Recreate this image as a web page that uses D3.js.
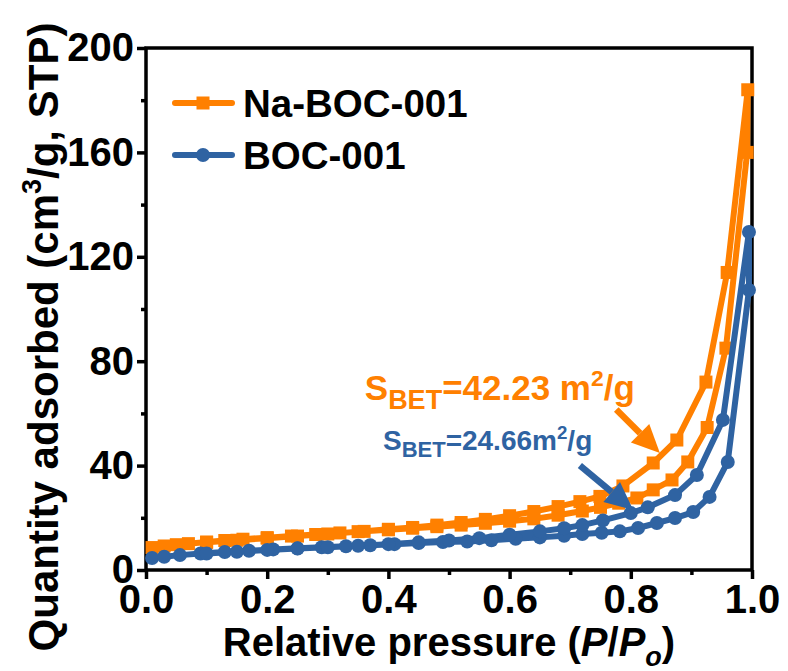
<!DOCTYPE html>
<html>
<head>
<meta charset="utf-8">
<script src="https://cdn.jsdelivr.net/npm/d3@7"></script>
<style>
  html, body { margin: 0; padding: 0; background: #fff; }
  svg { display: block; }
  text { font-family: Arial, "Liberation Sans", sans-serif; font-weight: bold; }
</style>
</head>
<body>
<svg id="chart" width="788" height="671"></svg>
<script>
// N2 adsorption–desorption isotherms (P/P0, cm3/g STP)
const naAdsorption = [
  [0.01, 8.6], [0.03, 9.2], [0.05, 9.7], [0.07, 10.1], [0.10, 10.7], [0.13, 11.3],
  [0.16, 11.8], [0.20, 12.4], [0.24, 13.0], [0.28, 13.6], [0.32, 14.2], [0.36, 14.8],
  [0.40, 15.4], [0.44, 16.0], [0.48, 16.6], [0.52, 17.2], [0.56, 17.9], [0.60, 18.7],
  [0.64, 19.6], [0.68, 21.0], [0.72, 22.6], [0.75, 24.0], [0.78, 25.6], [0.81, 27.6],
  [0.837, 30.7], [0.868, 34.5], [0.894, 41.4], [0.926, 54.6], [0.957, 85.0], [0.992, 160.0]
];
const naDesorption = [
  [0.993, 184.0], [0.959, 114.0], [0.924, 72.0], [0.876, 49.8], [0.837, 41.0],
  [0.787, 32.2], [0.749, 28.2], [0.716, 26.2], [0.68, 24.3], [0.64, 22.4], [0.60, 20.8],
  [0.56, 19.4], [0.52, 18.2], [0.48, 17.2], [0.44, 16.3], [0.40, 15.6], [0.35, 14.7],
  [0.30, 13.8], [0.25, 13.0], [0.20, 12.2], [0.15, 11.4], [0.10, 10.6]
];
const bocAdsorption = [
  [0.01, 4.6], [0.03, 5.1], [0.056, 5.7], [0.09, 6.3], [0.13, 6.9], [0.17, 7.4],
  [0.21, 7.9], [0.25, 8.3], [0.29, 8.7], [0.33, 9.1], [0.37, 9.5], [0.41, 9.9],
  [0.45, 10.3], [0.49, 10.7], [0.53, 10.9], [0.57, 11.4], [0.61, 12.0], [0.65, 12.5],
  [0.69, 13.1], [0.72, 13.8], [0.752, 14.3], [0.782, 14.8], [0.812, 16.1], [0.843, 18.0],
  [0.873, 19.9], [0.903, 22.2], [0.93, 28.0], [0.96, 41.4], [0.995, 107.3]
];
const bocDesorption = [
  [0.995, 129.5], [0.952, 57.5], [0.909, 36.4], [0.873, 28.7], [0.828, 24.0],
  [0.80, 21.8], [0.754, 19.0], [0.72, 17.2], [0.69, 16.0], [0.65, 14.8], [0.60, 13.5],
  [0.55, 12.2], [0.50, 11.3], [0.45, 10.6], [0.40, 9.9], [0.35, 9.3], [0.30, 8.7],
  [0.25, 8.2], [0.20, 7.7], [0.15, 7.0], [0.10, 6.3]
];
const seriesNames = ["Na-BOC-001", "BOC-001"];
const xTicks = [0, 0.2, 0.4, 0.6, 0.8, 1.0];
const xMinorTicks = [0.1, 0.3, 0.5, 0.7, 0.9];
const yTicks = [0, 40, 80, 120, 160, 200];
const yMinorTicks = [20, 60, 100, 140, 180];

const ORANGE = "#ff8000";
const BLUE = "#2f63a2";

const svg = d3.select("#chart");
const margin = { left: 146, right: 36, top: 48, bottom: 101 };
const W = 788, H = 671;

const x = d3.scaleLinear().domain([0, 1]).range([margin.left, W - margin.right]);
const y = d3.scaleLinear().domain([0, 200]).range([H - margin.bottom, margin.top]);

// ----- axes -----
const xAxisG = svg.append("g").attr("transform", `translate(0,${y(0)})`);
xAxisG.call(d3.axisBottom(x).tickValues(xTicks).tickFormat(d3.format(".1f")).tickSize(9).tickPadding(7));
xAxisG.append("g").call(d3.axisBottom(x).tickValues(xMinorTicks).tickFormat("").tickSize(5))
  .call(g => g.select(".domain").remove());

const yAxisG = svg.append("g").attr("transform", `translate(${x(0)},0)`);
yAxisG.call(d3.axisLeft(y).tickValues(yTicks).tickFormat(d3.format("d")).tickSize(9).tickPadding(3));
yAxisG.append("g").call(d3.axisLeft(y).tickValues(yMinorTicks).tickFormat("").tickSize(5))
  .call(g => g.select(".domain").remove());

svg.selectAll(".domain").remove();
svg.selectAll(".tick line").attr("stroke", "#000").attr("stroke-width", 3.5);
svg.selectAll(".tick text").attr("fill", "#000").attr("font-size", 40)
  .attr("font-family", "Arial, 'Liberation Sans', sans-serif").attr("font-weight", "bold");
xAxisG.selectAll(".tick text").attr("dy", "0.68em");

// plot frame
svg.append("rect")
  .attr("x", x(0)).attr("y", y(200))
  .attr("width", x(1) - x(0)).attr("height", y(0) - y(200))
  .attr("fill", "none").attr("stroke", "#000").attr("stroke-width", 3.5);

// ----- series -----
const line = d3.line().x(d => x(d[0])).y(d => y(d[1]));
const plot = svg.append("g");

function drawSeries(points, color, marker) {
  plot.append("path").datum(points)
    .attr("d", line).attr("fill", "none")
    .attr("stroke", color).attr("stroke-width", 6).attr("stroke-linejoin", "round");
  if (marker === "square") {
    plot.append("g").selectAll("rect").data(points).join("rect")
      .attr("x", d => x(d[0]) - 6.5).attr("y", d => y(d[1]) - 6.5)
      .attr("width", 13).attr("height", 13).attr("fill", color);
  } else {
    plot.append("g").selectAll("circle").data(points).join("circle")
      .attr("cx", d => x(d[0])).attr("cy", d => y(d[1])).attr("r", 7).attr("fill", color);
  }
}
drawSeries(naAdsorption.concat(naDesorption), ORANGE, "square");
drawSeries(bocAdsorption.concat(bocDesorption), BLUE, "circle");

// ----- annotations -----
function arrow(from, to, color) {
  const x0 = x(from[0]), y0 = y(from[1]), x1 = x(to[0]), y1 = y(to[1]);
  const ang = Math.atan2(y1 - y0, x1 - x0);
  const headLen = 28, headW = 13;
  const bx = x1 - headLen * Math.cos(ang), by = y1 - headLen * Math.sin(ang);
  svg.append("line").attr("x1", x0).attr("y1", y0).attr("x2", bx).attr("y2", by)
    .attr("stroke", color).attr("stroke-width", 6.5);
  const px = -Math.sin(ang), py = Math.cos(ang);
  svg.append("path")
    .attr("d", `M${x1},${y1}L${bx + headW * px},${by + headW * py}L${bx - headW * px},${by - headW * py}Z`)
    .attr("fill", color);
}
arrow([0.776, 61.5], [0.848, 44.8], ORANGE);
arrow([0.716, 40.0], [0.804, 23.0], BLUE);

function sbetLabel(pos, value, gap, color, size, subSize) {
  const t = svg.append("text").attr("x", x(pos[0])).attr("y", y(pos[1]))
    .attr("fill", color).attr("font-size", size);
  t.append("tspan").text("S");
  t.append("tspan").attr("font-size", subSize).attr("dy", size * 0.25).text("BET");
  t.append("tspan").attr("dy", -size * 0.25).text("=" + value + gap + "m");
  t.append("tspan").attr("font-size", subSize * 0.85).attr("dy", -size * 0.4).text("2");
  t.append("tspan").attr("dy", size * 0.4).text("/g");
}
sbetLabel([0.361, 65.1], "42.23", " ", ORANGE, 35, 27);
sbetLabel([0.391, 46.0], "24.66", "", BLUE, 28, 22);

// ----- legend -----
const legend = svg.append("g");
const legendItems = [
  { name: seriesNames[0], color: ORANGE, marker: "square" },
  { name: seriesNames[1], color: BLUE, marker: "circle" }
];
legendItems.forEach((item, i) => {
  const cy = 103 + i * 52;
  legend.append("line").attr("x1", 175).attr("x2", 232).attr("y1", cy).attr("y2", cy)
    .attr("stroke", item.color).attr("stroke-width", 6).attr("stroke-linecap", "round");
  if (item.marker === "square") {
    legend.append("rect").attr("x", 196.5).attr("y", cy - 6.5).attr("width", 13).attr("height", 13)
      .attr("fill", item.color);
  } else {
    legend.append("circle").attr("cx", 203).attr("cy", cy).attr("r", 7).attr("fill", item.color);
  }
  legend.append("text").attr("x", 243).attr("y", cy + 14)
    .attr("font-size", 38.5).attr("fill", "#000").text(item.name);
});

// ----- axis titles -----
const xTitle = svg.append("text")
  .attr("x", (x(0) + x(1)) / 2).attr("y", 656)
  .attr("text-anchor", "middle").attr("font-size", 40).attr("fill", "#000");
xTitle.append("tspan").text("Relative pressure (");
xTitle.append("tspan").attr("font-style", "italic").text("P");
xTitle.append("tspan").text("/");
xTitle.append("tspan").attr("font-style", "italic").text("P");
xTitle.append("tspan").attr("font-style", "italic").attr("font-size", 27).attr("dy", 10).text("o");
xTitle.append("tspan").attr("dy", -10).text(")");

const yTitle = svg.append("text")
  .attr("transform", `translate(58,337) rotate(-90)`)
  .attr("text-anchor", "middle").attr("font-size", 42).attr("fill", "#000");
yTitle.append("tspan").text("Quantity adsorbed (cm");
yTitle.append("tspan").attr("font-size", 27).attr("dy", -17).text("3");
yTitle.append("tspan").attr("dy", 17).text("/g, STP)");
</script>
</body>
</html>
